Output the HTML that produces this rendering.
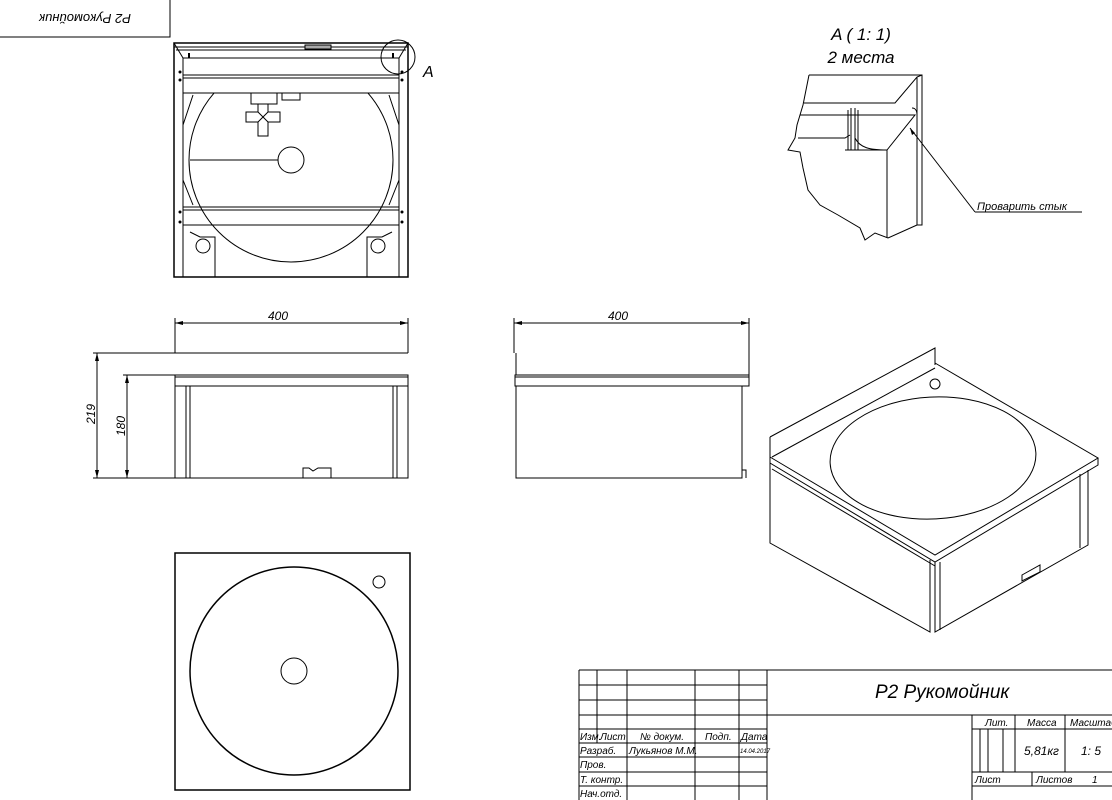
<!DOCTYPE html>
<html><head><meta charset="utf-8"><style>
html,body{margin:0;padding:0;background:#fff;}
svg{display:block;}
text{font-family:"Liberation Sans","DejaVu Sans",sans-serif;font-style:italic;fill:#000;}
</style></head><body>
<svg width="1112" height="800" viewBox="0 0 1112 800" xmlns="http://www.w3.org/2000/svg">
<defs><clipPath id="cp"><rect x="183" y="93" width="216" height="184"/></clipPath></defs>
<g fill="none" stroke="#000" stroke-width="1">
<path d="M0 37 H170 V0"/>
</g>
<text x="85" y="22" font-size="13" text-anchor="middle" transform="rotate(180 85 18)">Р2 Рукомойник</text>

<!-- TOP VIEW -->
<g fill="none" stroke="#000" stroke-width="1">
<rect x="174" y="43" width="234" height="234" stroke-width="1.5"/>
<line x1="183" y1="58" x2="183" y2="277"/><line x1="399" y1="58" x2="399" y2="277"/>
<line x1="174" y1="47" x2="408" y2="47"/><line x1="176" y1="50" x2="406" y2="50"/>
<line x1="174" y1="43" x2="183" y2="58"/><line x1="408" y1="43" x2="399" y2="58"/>
<line x1="183" y1="58" x2="399" y2="58"/>
<line x1="183" y1="75" x2="399" y2="75"/><line x1="183" y1="78" x2="399" y2="78"/>
<line x1="183" y1="93" x2="399" y2="93"/>
<rect x="305" y="45" width="26" height="4" fill="#aaa"/>
<line x1="189" y1="53" x2="189" y2="58" stroke-width="2"/><line x1="393" y1="53" x2="393" y2="58" stroke-width="2"/>
<circle cx="291" cy="160" r="102" clip-path="url(#cp)"/>
<circle cx="291" cy="160" r="13"/>
<line x1="190" y1="160" x2="278" y2="160"/>
<rect x="251" y="93" width="26" height="11"/>
<rect x="282" y="93" width="18" height="7"/>
<path d="M258 104 V112 H246 V122 H258 V136 H268 V122 H280 V112 H268 V104"/>
<line x1="258" y1="112" x2="268" y2="122"/><line x1="268" y1="112" x2="258" y2="122"/>
<line x1="183" y1="207" x2="399" y2="207"/><line x1="183" y1="210" x2="399" y2="210"/>
<line x1="183" y1="225" x2="399" y2="225"/>
<path d="M183 125 L193 95 M183 180 L193 205 M399 125 L389 95 M399 180 L389 205"/>
<path d="M190 232 L200 237 H215 V277 M392 232 L382 237 H367 V277"/>
<circle cx="203" cy="246" r="7"/><circle cx="378" cy="246" r="7"/>
<circle cx="398" cy="57" r="17"/>
</g>
<g fill="#000"><circle cx="180" cy="72" r="1.5"/><circle cx="180" cy="80" r="1.5"/><circle cx="402" cy="72" r="1.5"/><circle cx="402" cy="80" r="1.5"/><circle cx="180" cy="212" r="1.5"/><circle cx="180" cy="222" r="1.5"/><circle cx="402" cy="212" r="1.5"/><circle cx="402" cy="222" r="1.5"/></g>
<text x="423" y="77" font-size="16">A</text>

<!-- FRONT VIEW -->
<g fill="none" stroke="#000" stroke-width="1">
<line x1="175" y1="318" x2="175" y2="353"/><line x1="408" y1="318" x2="408" y2="353"/>
<line x1="175" y1="323" x2="408" y2="323"/>
<line x1="93" y1="353" x2="408" y2="353"/>
<line x1="123" y1="375" x2="175" y2="375"/>
<line x1="93" y1="478" x2="175" y2="478"/>
<line x1="97" y1="353" x2="97" y2="478"/><line x1="127" y1="375" x2="127" y2="478"/>
<rect x="175" y="375" width="233" height="11"/>
<line x1="175" y1="377" x2="408" y2="377"/>
<rect x="175" y="386" width="233" height="92"/>
<line x1="186" y1="386" x2="186" y2="478"/><line x1="190" y1="386" x2="190" y2="478"/>
<line x1="393" y1="386" x2="393" y2="478"/><line x1="397" y1="386" x2="397" y2="478"/>
<path d="M303 478 V468 H309 L313 471 L318 468 H331 V478"/>
</g>
<g fill="#000">
<path d="M175 323 l8 -2 v4z M408 323 l-8 -2 v4z M97 353 l-2 8 h4z M97 478 l-2 -8 h4z M127 375 l-2 8 h4z M127 478 l-2 -8 h4z"/>
</g>
<text x="278" y="320" font-size="12" text-anchor="middle">400</text>
<text x="95" y="414" font-size="12" text-anchor="middle" transform="rotate(-90 95 414)">219</text>
<text x="125" y="426" font-size="12" text-anchor="middle" transform="rotate(-90 125 426)">180</text>

<!-- SIDE VIEW -->
<g fill="none" stroke="#000" stroke-width="1">
<line x1="514" y1="318" x2="514" y2="353"/><line x1="749" y1="318" x2="749" y2="353"/>
<line x1="514" y1="323" x2="749" y2="323"/>
<line x1="516" y1="353" x2="516" y2="375"/>
<line x1="749" y1="353" x2="749" y2="375"/>
<rect x="515" y="375" width="234" height="11"/>
<line x1="515" y1="377" x2="749" y2="377"/>
<rect x="516" y="386" width="226" height="92"/>
<path d="M742 470 H746 V478"/>
</g>
<g fill="#000"><path d="M514 323 l8 -2 v4z M749 323 l-8 -2 v4z"/></g>
<text x="618" y="320" font-size="12" text-anchor="middle">400</text>

<!-- PLAN VIEW -->
<g fill="none" stroke="#000">
<rect x="175" y="553" width="235" height="237" stroke-width="1.5"/>
<circle cx="294" cy="671" r="104" stroke-width="1.5"/>
<circle cx="294" cy="671" r="13"/>
<circle cx="379" cy="582" r="6"/>
</g>

<!-- DETAIL A -->
<text x="861" y="40" font-size="17" text-anchor="middle">A ( 1: 1)</text>
<text x="861" y="63" font-size="17" text-anchor="middle">2 места</text>
<g fill="none" stroke="#000" stroke-width="1">
<path d="M809 75 H922 V225 H917"/>
<path d="M917 77 V225"/>
<path d="M922 75 L917 77 L895 103 H804"/>
<path d="M809 75 L806 90 L803 105 L800 115 L797 125 L795 138 L788 150 L800 152 L803 168 L808 190 L820 205 L838 215 L860 228 L865 240 L875 233 L888 238 L917 225"/>
<path d="M800 115 H915 L887 150 H845 M798 138 H845 L850 135"/>
<path d="M848 110 V150 M851 108 V150 M855 108 V150 M858 110 V150"/>
<path d="M887 150 V238"/>
<path d="M855 138 C860 148 870 150 887 150"/>
<path d="M912 108 C916 108 917 112 917 115"/>
<line x1="910" y1="128" x2="975" y2="212"/>
<line x1="975" y1="212" x2="1082" y2="212"/>
</g>
<path d="M910 128 l2 7 l3 -2z" fill="#000"/>
<text x="977" y="210" font-size="11">Проварить стык</text>

<!-- ISOMETRIC -->
<g fill="none" stroke="#000" stroke-width="1">
<path d="M770 437 L935 348 L935 365"/>
<path d="M770 437 V457"/>
<path d="M772 457 L935 368"/>
<path d="M770 457 L935 555 L1098 458 L935 363"/>
<path d="M770 457 V463 L935 562 L1098 465 V458"/>
<path d="M770 463 V543 L930 632 V560"/>
<path d="M935 562 V632 L1088 545 V470"/>
<path d="M940 562 V630 M1080 474 V548"/>
<path d="M772 469 L935 566"/>
<ellipse cx="933" cy="458" rx="103" ry="61" transform="rotate(-3 933 458)"/>
<circle cx="935" cy="384" r="5"/>
<path d="M1022 575 L1040 565 V572 L1022 581Z"/>
</g>

<!-- TITLE BLOCK -->
<g fill="none" stroke="#000" stroke-width="1">
<path d="M579 670 H1112 M579 800 V670 M767 670 V800"/>
<path d="M579 685 H767 M579 700 H767 M579 715 H1112 M579 729 H767 M579 743 H767 M579 757 H767 M579 772 H767 M579 786 H767"/>
<path d="M597 670 V743 M627 670 V800 M695 670 V800 M739 670 V800"/>
<path d="M972 715 V800 M972 729 H1112 M972 772 H1112 M972 786 H1112"/>
<path d="M1015 715 V772 M1065 715 V772 M980 729 V772 M988 729 V772 M1003 729 V772 M1032 772 V786"/>
</g>
<g font-size="10">
<text x="580" y="740">Изм.</text><text x="600" y="740">Лист</text><text x="640" y="740">№ докум.</text><text x="705" y="740">Подп.</text><text x="741" y="740">Дата</text>
<text x="580" y="754">Разраб.</text><text x="629" y="754">Лукьянов М.М.</text><text x="740" y="753" font-size="6">14.04.2017</text>
<text x="580" y="768">Пров.</text><text x="580" y="783">Т. контр.</text><text x="580" y="797">Нач.отд.</text>
<text x="985" y="726">Лит.</text><text x="1027" y="726">Масса</text><text x="1070" y="726">Масштаб</text>
<text x="1024" y="755" font-size="12">5,81кг</text><text x="1081" y="755" font-size="12">1: 5</text>
<text x="975" y="783">Лист</text><text x="1036" y="783">Листов</text><text x="1092" y="783">1</text>
</g>
<text x="875" y="698" font-size="19">Р2 Рукомойник</text>
</svg>
</body></html>
